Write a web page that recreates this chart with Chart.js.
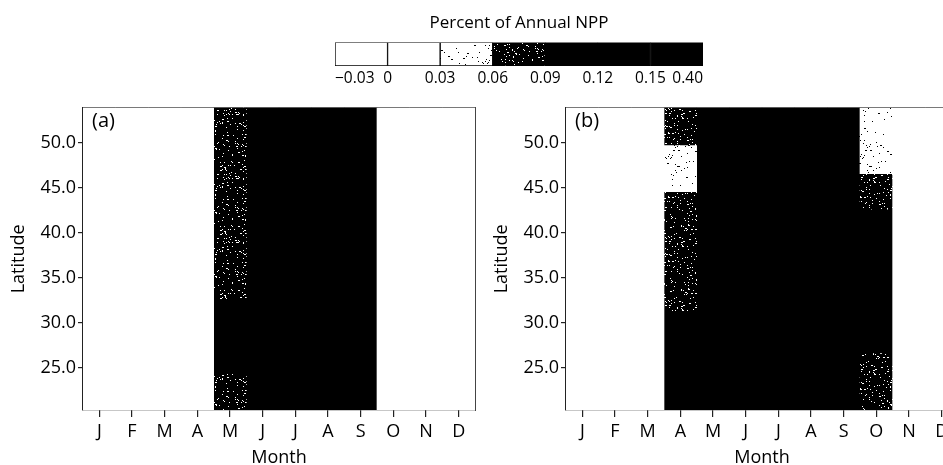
<!DOCTYPE html>
<html><head><meta charset="utf-8">
<script src="https://cdn.jsdelivr.net/npm/chart.js@4/dist/chart.umd.min.js"></script>
<style>
html,body{margin:0;padding:0;width:943px;height:465px;overflow:hidden;background:#fff;position:relative;}
canvas{position:absolute;}
</style></head><body>
<canvas id="cbar" width="446" height="95" style="left:300px;top:0px"></canvas>
<canvas id="pa" width="480" height="374" style="left:0px;top:95px"></canvas>
<canvas id="pb" width="480" height="374" style="left:483px;top:95px"></canvas>
<script>
// ---------- data ----------
const months = ['J','F','M','A','M','J','J','A','S','O','N','D'];
const classEdges = [-0.03, 0, 0.03, 0.06, 0.09, 0.12, 0.15, 0.40];
const classLabels = ['\u22120.03','0','0.03','0.06','0.09','0.12','0.15','0.40'];
const latTicks = [25, 30, 35, 40, 45, 50];
const latRange = [20.35, 53.85];
// segments: [monthIndex, latFrom, latTo, classIndex]
const panelA = [
  [0, 20.35, 53.85, 1], [1, 20.35, 53.85, 1], [2, 20.35, 53.85, 1], [3, 20.35, 53.85, 1],
  [4, 32.7, 53.85, 3], [4, 24.5, 32.7, 6], [4, 20.35, 24.5, 3],
  [5, 20.35, 53.85, 6], [6, 20.35, 53.85, 6], [7, 20.35, 53.85, 6], [8, 20.35, 53.85, 6],
  [9, 20.35, 53.85, 1], [10, 20.35, 53.85, 1], [11, 20.35, 53.85, 1]
];
const panelB = [
  [0, 20.35, 53.85, 1], [1, 20.35, 53.85, 1], [2, 20.35, 53.85, 1],
  [3, 49.65, 53.85, 3], [3, 44.55, 49.65, 2], [3, 31.25, 44.55, 3], [3, 20.35, 31.25, 6],
  [4, 20.35, 53.85, 6], [5, 20.35, 53.85, 6], [6, 20.35, 53.85, 6], [7, 20.35, 53.85, 6], [8, 20.35, 53.85, 6],
  [9, 46.55, 53.85, 2], [9, 42.6, 46.55, 3], [9, 26.6, 42.6, 6], [9, 20.35, 26.6, 3],
  [10, 20.35, 53.85, 1], [11, 20.35, 53.85, 1]
];

// ---------- styles ----------
Chart.defaults.font.family = '"Open Sans", sans-serif';
Chart.defaults.color = '#000';
function stipple(bg, fg, n, seed) {
  const W = 64;
  const c = document.createElement('canvas'); c.width = W; c.height = W;
  const g = c.getContext('2d'); g.fillStyle = bg; g.fillRect(0, 0, W, W); g.fillStyle = fg;
  let s = seed >>> 0;
  const next = () => { s ^= s << 13; s >>>= 0; s ^= s >>> 17; s ^= s << 5; s >>>= 0; return s; };
  for (let i = 0; i < n; i++) {
    const x = next() % W, y = next() % W;
    const big = next() % 5 === 0;
    g.fillRect(x, y, big ? 2 : 1, 1);
  }
  return g.createPattern(c, 'repeat');
}
const lightFill = stipple('#ffffff', '#000000', 80, 2463534242);
const darkFill = stipple('#000000', '#ffffff', 240, 88172645);
const classFill = ['#ffffff', '#ffffff', lightFill, darkFill, '#000000', '#000000', '#000000'];

const panelLabel = {
  id: 'panelLabel',
  afterDraw(chart, args, opts) {
    const {ctx, chartArea} = chart;
    ctx.save();
    ctx.font = '20px "Open Sans"';
    ctx.fillStyle = '#000';
    ctx.textBaseline = 'top';
    ctx.fillText(opts.text, chartArea.left + 9, chartArea.top + 3);
    ctx.restore();
  }
};

function makePanel(id, segs, label) {
  const datasets = classFill.map((fill, c) => ({
    type: 'bar',
    data: segs.filter(s => s[3] === c).map(s => ({x: s[0], y: [s[1], s[2]]})),
    backgroundColor: fill,
    borderWidth: 0,
    borderSkipped: false,
    grouped: false,
    barPercentage: 1,
    categoryPercentage: 1
  })).filter(d => d.data.length);
  const axisFont = {family: '"Open Sans"', size: 18};
  return new Chart(document.getElementById(id), {
    type: 'bar',
    data: {datasets},
    plugins: [panelLabel],
    options: {
      responsive: false, animation: false,
      layout: {padding: {left: 0, top: 11, right: 5, bottom: 0}},
      plugins: {legend: {display: false}, tooltip: {enabled: false}, panelLabel: {text: label}},
      scales: {
        x: {
          type: 'linear', min: -0.5, max: 11.5, offset: false, z: 1,
          afterBuildTicks: s => { s.ticks = months.map((m, i) => ({value: i})); },
          ticks: {callback: v => months[v], font: axisFont, color: '#000', maxRotation: 0, autoSkip: false, padding: 4},
          grid: {display: true, offset: false, drawOnChartArea: false, drawTicks: true, tickLength: 7, color: '#222', lineWidth: 1.2},
          border: {display: true, color: '#222', width: 1.2},
          title: {display: true, text: 'Month', font: axisFont, color: '#000', padding: {top: 0, bottom: 0}},
          afterFit: s => { s.height = 59; }
        },
        y: {
          type: 'linear', min: latRange[0], max: latRange[1], z: 1,
          afterBuildTicks: s => { s.ticks = latTicks.map(v => ({value: v})); },
          ticks: {callback: v => Number(v).toFixed(1), font: axisFont, color: '#000', padding: 2},
          grid: {display: true, offset: false, drawOnChartArea: false, drawTicks: true, tickLength: 5, color: '#222', lineWidth: 1.2},
          border: {display: true, color: '#222', width: 1.2},
          title: {display: true, text: 'Latitude', font: axisFont, color: '#000', padding: {top: 8, bottom: 0}},
          afterFit: s => { s.width = 83; }
        },
        x2: {
          type: 'linear', position: 'top', min: -0.5, max: 11.5, z: 1,
          ticks: {display: false}, grid: {display: false, drawTicks: false},
          border: {display: true, color: '#666', width: 1},
          afterFit: s => { s.height = 0; }
        },
        y2: {
          type: 'linear', position: 'right', min: latRange[0], max: latRange[1], z: 1,
          ticks: {display: false}, grid: {display: false, drawTicks: false},
          border: {display: true, color: '#444', width: 1},
          afterFit: s => { s.width = 0; }
        }
      }
    }
  });
}
makePanel('pa', panelA, '(a)');
makePanel('pb', panelB, '(b)');

// ---------- colour bar ----------
new Chart(document.getElementById('cbar'), {
  type: 'bar',
  data: {
    labels: [''],
    datasets: classFill.map((fill, c) => ({
      data: [[c, c + 1]],
      backgroundColor: fill,
      borderColor: '#000',
      borderWidth: 1,
      borderSkipped: false,
      grouped: false,
      barPercentage: 1,
      categoryPercentage: 1
    }))
  },
  options: {
    indexAxis: 'y',
    responsive: false, animation: false,
    layout: {padding: {left: 35, right: 43, top: 0, bottom: 0}},
    plugins: {
      legend: {display: false}, tooltip: {enabled: false},
      title: {display: true, text: 'Percent of Annual NPP', font: {family: '"Open Sans"', size: 17, weight: 'normal'},
              color: '#000', padding: {top: 13, bottom: 9}}
    },
    scales: {
      y: {display: false},
      x: {
        type: 'linear', min: 0, max: classEdges.length - 1,
        afterBuildTicks: s => { s.ticks = classEdges.map((e, i) => ({value: i})); },
        ticks: {callback: v => classLabels[v], font: {family: '"Open Sans"', size: 15.5}, color: '#000', padding: 3, align: 'inner', maxRotation: 0, autoSkip: false},
        grid: {display: false, drawTicks: false},
        border: {display: false},
        afterFit: s => { s.height = 29; }
      }
    }
  }
});
</script>
</body></html>
